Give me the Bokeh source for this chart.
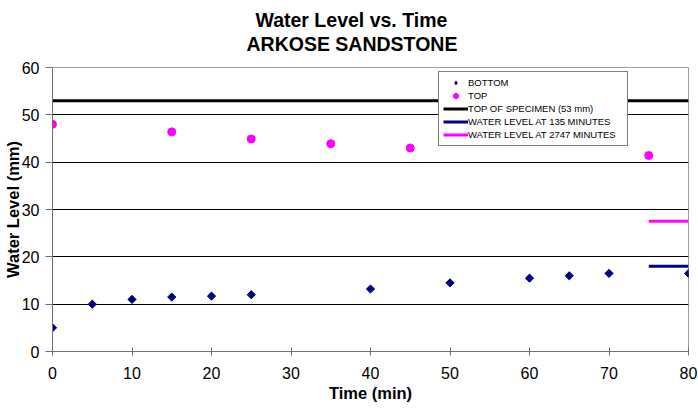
from bokeh.plotting import figure
from bokeh.models import Range1d, FixedTicker, Legend, LegendItem, Title
from bokeh.embed import file_html
from bokeh.resources import INLINE
import math

# ---- data ----
time_bottom = [0, 5, 10, 15, 20, 25, 40, 50, 60, 65, 70, 80]
level_bottom = [5.0, 10.0, 11.0, 11.5, 11.7, 12.0, 13.2, 14.5, 15.5, 16.0, 16.5, 16.5]
time_top = [0, 15, 25, 35, 45, 75]
level_top = [48.0, 46.4, 44.9, 43.9, 43.0, 41.4]
specimen_x = [0, 80]
specimen_y = [53, 53]
wl135_x = [75, 80]
wl135_y = [18, 18]
wl2747_x = [75, 80]
wl2747_y = [27.5, 27.5]
x_ticks = [0, 10, 20, 30, 40, 50, 60, 70, 80]
y_ticks = [0, 10, 20, 30, 40, 50, 60]
grid_ticks = [10, 20, 30, 40, 50]
title_lines = ["Water Level vs. Time", "ARKOSE SANDSTONE"]

FONT = "Liberation Sans"
NAVY = "#000080"
MAGENTA = "#FF00FF"

p = figure(width=698, height=408, output_backend="svg", toolbar_location=None,
           x_range=Range1d(0, 80), y_range=Range1d(0, 60),
           min_border_left=52, min_border_right=10, min_border_top=67, min_border_bottom=57)

# spacer between the frame and the title block
p.add_layout(Title(text=" ", text_font_size="1px", standoff=10), "above")
# two title lines, nearest to the frame first
for text, off in [(title_lines[1], 194), (title_lines[0], 203)]:
    t = Title(text=text, align="left", offset=off, standoff=0,
              text_font=FONT, text_font_size="19.5px", text_font_style="bold",
              text_color="black", text_line_height=1.0)
    p.add_layout(t, "above")

p.outline_line_color = "#A0A0A0"
p.outline_line_width = 1
p.background_fill_color = "white"
p.border_fill_color = "white"

# grid
p.xgrid.grid_line_color = None
p.ygrid.ticker = FixedTicker(ticks=grid_ticks)
p.ygrid.grid_line_color = "black"
p.ygrid.grid_line_width = 1

# axes
p.xaxis.ticker = FixedTicker(ticks=x_ticks)
p.yaxis.ticker = FixedTicker(ticks=y_ticks)
for ax in (p.xaxis[0], p.yaxis[0]):
    ax.axis_line_color = "#707070"
    ax.major_tick_line_color = "#707070"
    ax.minor_tick_line_color = None
    ax.major_label_text_font = FONT
    ax.major_label_text_font_size = "16px"
    ax.major_label_text_color = "black"
    ax.axis_label_text_font = FONT
    ax.axis_label_text_font_size = "16.5px"
    ax.axis_label_text_font_style = "bold"
    ax.axis_label_text_color = "black"
    ax.axis_label_text_line_height = 1.0

p.xaxis.axis_label = "Time (min)"
p.xaxis.major_tick_in = 4
p.xaxis.major_tick_out = 4
p.xaxis.major_label_standoff = 11
p.xaxis.axis_label_standoff = 2

p.yaxis.axis_label = "Water Level (mm)"
p.yaxis.major_tick_in = 0
p.yaxis.major_tick_out = 7
p.yaxis.major_label_standoff = 6
p.yaxis.axis_label_standoff = -3

# glyphs
r_spec = p.line(specimen_x, specimen_y, line_color="black", line_width=3)
r_135 = p.line(wl135_x, wl135_y, line_color=NAVY, line_width=3)
r_2747 = p.line(wl2747_x, wl2747_y, line_color=MAGENTA, line_width=3)
# diamond glyph used by the legend (hidden beneath the rotated squares)
r_bot_leg = p.scatter(time_bottom, level_bottom, marker="diamond", size=7.5,
                      fill_color=NAVY, line_color=None)
p.scatter(time_bottom, level_bottom, marker="square", size=5.8, angle=math.pi / 4,
          fill_color=NAVY, line_color=NAVY)
r_top = p.scatter(time_top, level_top, marker="circle", size=8,
                  fill_color=MAGENTA, line_color=MAGENTA)

legend = Legend(items=[
    LegendItem(label="BOTTOM", renderers=[r_bot_leg]),
    LegendItem(label="TOP", renderers=[r_top]),
    LegendItem(label="TOP OF SPECIMEN (53 mm)", renderers=[r_spec]),
    LegendItem(label="WATER LEVEL AT 135 MINUTES", renderers=[r_135]),
    LegendItem(label="WATER LEVEL AT 2747 MINUTES", renderers=[r_2747]),
], location=(386, 205))
legend.label_text_font = FONT
legend.label_text_font_size = "9.5px"
legend.label_text_color = "black"
legend.label_height = 13
legend.glyph_height = 13
legend.glyph_width = 25
legend.label_width = 155
legend.label_standoff = 0
legend.spacing = 0
legend.padding = 4
legend.margin = 0
legend.border_line_color = "black"
legend.border_line_width = 1
legend.background_fill_color = "white"
legend.background_fill_alpha = 1
p.add_layout(legend)

open("out.html", "w").write(file_html(p, INLINE))
